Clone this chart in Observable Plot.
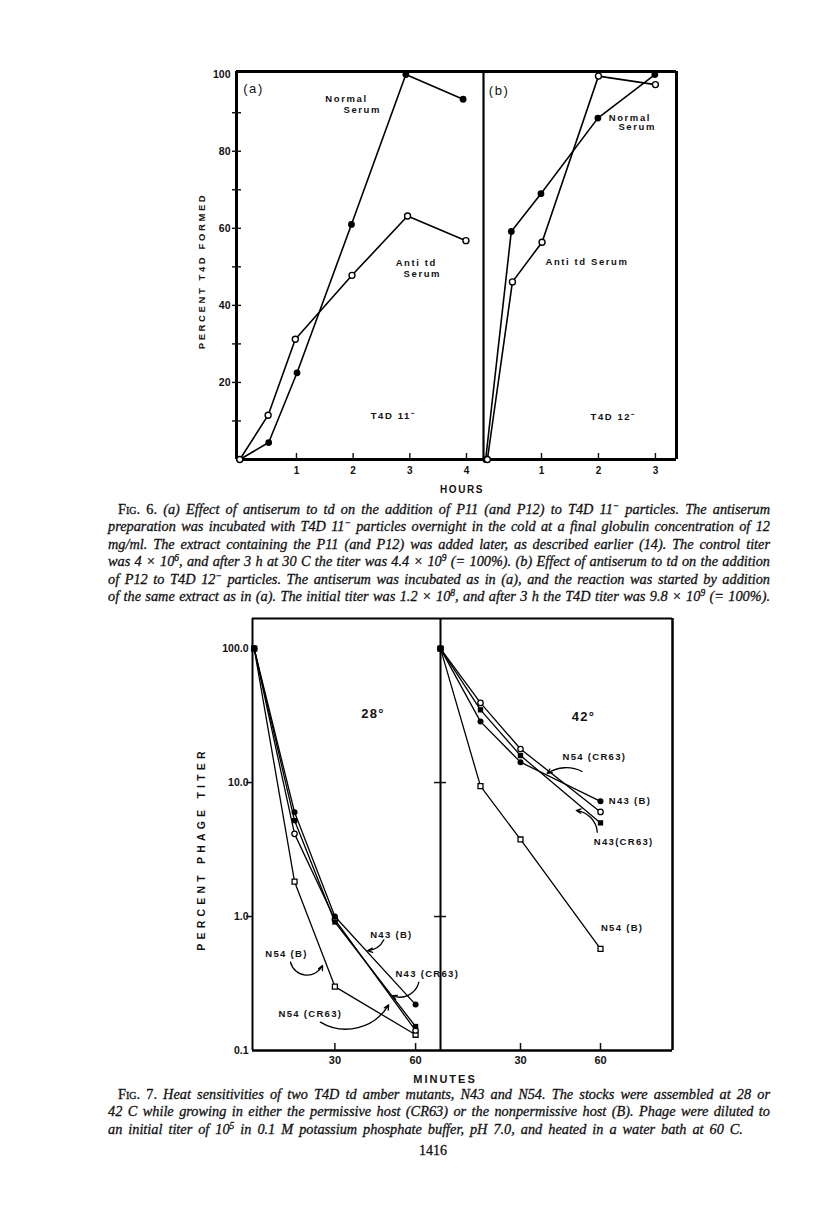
<!DOCTYPE html>
<html><head><meta charset="utf-8">
<script src="https://cdn.jsdelivr.net/npm/d3@7"></script>
<script src="https://cdn.jsdelivr.net/npm/@observablehq/plot@0.6"></script>
<style>
body{margin:0;background:#fff;}
#page{position:relative;width:816px;height:1211px;background:#fff;overflow:hidden;color:#111;}
.cap{position:absolute;left:108px;width:662px;font-family:"Liberation Serif","DejaVu Serif",serif;font-style:italic;font-size:14.3px;line-height:17.4px;-webkit-text-stroke:0.3px #111;}
.cap div{text-align:justify;text-align-last:justify;}
.cap div.first{padding-left:10px;}
.cap div.last{text-align-last:left;word-spacing:2.4px;}
.cap sup{font-size:0.66em;line-height:0;vertical-align:0.55em;}
.sc{font-style:normal;font-variant:small-caps;}
.up{font-style:normal;}
.ttl{position:absolute;font-family:"Liberation Sans",Arial,sans-serif;font-weight:bold;white-space:nowrap;transform:translate(-50%,-50%);}
.rot{transform:translate(-50%,-50%) rotate(-90deg);}
</style>
</head><body>
<div id="page">
  <div class="ttl rot" style="left:201px;top:271px;font-size:9.5px;letter-spacing:2.6px;">PERCENT T4D FORMED</div>
  <div class="ttl" style="left:462px;top:489px;font-size:10px;letter-spacing:1.6px;">HOURS</div>
  <div class="cap" style="top:501px;">
    <div class="first"><span class="sc">Fig</span><span class="up">. 6.</span> (a) Effect of antiserum to td on the addition of P11 (and P12) to T4D 11<sup>−</sup> particles. The antiserum</div>
    <div>preparation was incubated with T4D 11<sup>−</sup> particles overnight in the cold at a final globulin concentration of 12</div>
    <div>mg/ml. The extract containing the P11 (and P12) was added later, as described earlier (14). The control titer</div>
    <div>was 4 × 10<sup>6</sup>, and after 3 h at 30 C the titer was 4.4 × 10<sup>9</sup> (= 100%). (b) Effect of antiserum to td on the addition</div>
    <div>of P12 to T4D 12<sup>−</sup> particles. The antiserum was incubated as in (a), and the reaction was started by addition</div>
    <div>of the same extract as in (a). The initial titer was 1.2 × 10<sup>8</sup>, and after 3 h the T4D titer was 9.8 × 10<sup>9</sup> (= 100%).</div>
  </div>
  <div class="ttl rot" style="left:201px;top:849px;font-size:10.5px;letter-spacing:4.2px;">PERCENT PHAGE TITER</div>
  <div class="ttl" style="left:445px;top:1079px;font-size:11px;letter-spacing:2px;">MINUTES</div>
  <div class="cap" style="top:1086px;">
    <div class="first"><span class="sc">Fig</span><span class="up">. 7.</span> Heat sensitivities of two T4D td amber mutants, N43 and N54. The stocks were assembled at 28 or</div>
    <div>42 C while growing in either the permissive host (CR63) or the nonpermissive host (B). Phage were diluted to</div>
    <div class="last">an initial titer of 10<sup>5</sup> in 0.1 M potassium phosphate buffer, pH 7.0, and heated in a water bath at 60 C.</div>
  </div>
  <div style="position:absolute;left:433px;top:1151px;transform:translate(-50%,-50%);font-family:'Liberation Serif',serif;font-size:14px;-webkit-text-stroke:0.3px #111;">1416</div>
</div>
<script>
// ================= DATA =================
// Fig. 6 (a): T4D 11- particles (hours, percent T4D formed)
const fig6aNormalHours = [0, 0.51, 1.01, 1.97, 2.93, 3.94];
const fig6aNormalPct   = [0, 4.4, 22.5, 61.0, 99.9, 93.5];
const fig6aAntiHours   = [0, 0.50, 0.98, 1.98, 2.96, 3.99];
const fig6aAntiPct     = [0, 11.5, 31.2, 47.8, 63.2, 56.8];
// Fig. 6 (b): T4D 12- particles
const fig6bNormalHours = [0.02, 0.47, 0.99, 1.99, 2.99];
const fig6bNormalPct   = [0, 59.2, 69.0, 88.6, 99.9];
const fig6bAntiHours   = [0.05, 0.49, 1.01, 2.00, 3.00];
const fig6bAntiPct     = [0, 46.1, 56.4, 99.5, 97.3];
// Fig. 6 axis ticks
const fig6YMinorTicks = [10, 20, 30, 40, 50, 60, 70, 80, 90];
const fig6YLabels = [20, 40, 60, 80, 100];
const fig6aXTicks = [1, 2, 3, 4];
const fig6bXTicks = [1, 2, 3];
// Fig. 6 annotations
const fig6aPanelLabel = [{text: "(a)", x: 0.06, y: 96.2}];
const fig6bPanelLabel = [{text: "(b)", x: 0.076, y: 95.8}];
const fig6aNotes = [
  {text: "Normal", x: 1.51, y: 93.6},
  {text: "Serum", x: 1.83, y: 90.8},
  {text: "Anti td", x: 2.75, y: 50.9},
  {text: "Serum", x: 2.89, y: 48.2},
  {text: "T4D 11\u207B", x: 2.31, y: 11.2}
];
const fig6bNotes = [
  {text: "Normal", x: 2.18, y: 88.7},
  {text: "Serum", x: 2.35, y: 86.2},
  {text: "Anti td Serum", x: 1.07, y: 51.2},
  {text: "T4D 12\u207B", x: 1.86, y: 11.0}
];

// Fig. 7: minutes at 60 C, percent phage titer
const fig7Minutes = [0, 15, 30, 60];
const t28_N43B    = [100, 6.0, 1.0, 0.22];
const t28_N43CR63 = [100, 5.2, 0.91, 0.151];
const t28_N54CR63 = [100, 4.14, 0.95, 0.141];
const t28_N54B    = [100, 1.82, 0.30, 0.131];
const t42_N43B    = [100, 28.5, 14.2, 7.24];
const t42_N43CR63 = [100, 34.9, 15.9, 5.0];
const t42_N54CR63 = [100, 39.3, 17.8, 6.04];
const t42_N54B    = [100, 9.4, 3.76, 0.574];
const fig7SeriesNames = ["N43 (B)", "N43 (CR63)", "N54 (CR63)", "N54 (B)"];
const fig7YLabels = [0.1, 1, 10, 100];
const fig7YTicksLeft = [1, 10];
const fig7YTicksDivider = [1, 10];
const fig7XTicks = [30, 60];
// Fig. 7 annotations
const fig7LeftTemp = [{text: "28°", x: 44.2, y: 32.6}];
const fig7RightTemp = [{text: "42°", x: 53.6, y: 30.7}];
const fig7LeftNotes = [
  {text: "N43 (B)", x: 51.0, y: 0.734, anchor: "middle"},
  {text: "N54 (B)", x: 12.0, y: 0.526, anchor: "middle"},
  {text: "N43 (CR63)", x: 52.5, y: 0.372, anchor: "start"},
  {text: "N54 (CR63)", x: 20.9, y: 0.189, anchor: "middle"}
];
const fig7RightNotes = [
  {text: "N54 (CR63)", x: 57.7, y: 15.4, anchor: "middle"},
  {text: "N43 (B)", x: 63.1, y: 7.26, anchor: "start"},
  {text: "N43(CR63)", x: 68.7, y: 3.58, anchor: "middle"},
  {text: "N54 (B)", x: 68.1, y: 0.824, anchor: "middle"}
];
// arrows: from label to curve
const fig7LeftArrows = [
  {x1: 48.2, y1: 0.670, x2: 42.2, y2: 0.557, bend: 30},
  {x1: 13.5, y1: 0.456, x2: 25.4, y2: 0.431, bend: -70},
  {x1: 61.2, y1: 0.324, x2: 51.3, y2: 0.257, bend: 50},
  {x1: 24.6, y1: 0.163, x2: 50.0, y2: 0.219, bend: -45}
];
const fig7RightArrows = [
  {x1: 53.1, y1: 12.1, x2: 40.0, y2: 11.7, bend: -30},
  {x1: 58.8, y1: 4.26, x2: 50.9, y2: 6.18, bend: -40}
];

// ================= LAYOUT =================
const SANS = "'Liberation Sans', Arial, sans-serif";
const page = document.getElementById("page");

function rows(xs, ys, series) {
  return xs.map((x, i) => ({series, x, y: ys[i]}));
}

function panel({frame, margin, x, y, marks, spacing}) {
  const [fl, ft, fr, fb] = frame;
  const [mt, mr, mb, ml] = margin;
  const width = fr - fl + ml + mr, height = fb - ft + mt + mb;
  const svg = Plot.plot({
    width, height, marginTop: mt, marginRight: mr, marginBottom: mb, marginLeft: ml,
    x, y, marks: marks(fr - fl, fb - ft),
    style: {fontFamily: SANS, fontSize: "10px", fontWeight: "bold", color: "#111"}
  });
  svg.style.position = "absolute";
  svg.style.left = (fl - ml) + "px";
  svg.style.top = (ft - mt) + "px";
  svg.style.background = "transparent";
  svg.style.overflow = "visible";
  svg.style.maxWidth = "none";
  d3.select(svg).selectAll('g[aria-label="text"] text').style("letter-spacing", spacing);
  page.appendChild(svg);
  return svg;
}

// ---------- Fig. 6 ----------
const y6 = {domain: [0, 100.7], axis: null};
const x6a = [-0.058, 4.30];
const x6b = [-0.018, 3.37];

function fig6Marks(xDom, xTicks, normal, anti, notes, panelLabel, withY, leftW, rightW) {
  return (iw, ih) => [
    Plot.ruleX([xDom[0]], {stroke: "black", strokeWidth: leftW}),
    Plot.ruleX([xDom[1]], {stroke: "black", strokeWidth: rightW}),
    Plot.ruleY([y6.domain[0]], {stroke: "black", strokeWidth: 3}),
    Plot.ruleY([y6.domain[1]], {stroke: "black", strokeWidth: 3}),
    withY ? Plot.tickY(fig6YMinorTicks, {y: d => d, insetLeft: -4, insetRight: iw - 5, strokeWidth: 1.4}) : null,
    withY ? Plot.axisY({ticks: fig6YLabels, tickSize: 0, tickPadding: 6, label: null, tickFormat: d3.format("d"), fontSize: 10.5, fontWeight: "bold"}) : null,
    Plot.tickX(xTicks, {x: d => d, insetTop: ih - 6, strokeWidth: 1.4}),
    Plot.axisX({ticks: xTicks, tickSize: 0, tickPadding: 7, label: null, tickFormat: d3.format("d"), fontSize: 10, fontWeight: "bold"}),
    Plot.line(normal, {x: "x", y: "y", stroke: "black", strokeWidth: 1.6}),
    Plot.line(anti, {x: "x", y: "y", stroke: "black", strokeWidth: 1.6}),
    Plot.dot(normal, {x: "x", y: "y", r: 3.4, fill: "black"}),
    Plot.dot(anti, {x: "x", y: "y", r: 3, fill: "white", stroke: "black", strokeWidth: 1.4}),
    Plot.text(panelLabel, {x: "x", y: "y", text: "text", textAnchor: "start", fontSize: 13, fontWeight: "normal"}),
    Plot.text(notes, {x: "x", y: "y", text: "text", textAnchor: "start", fontSize: 9.5, fontWeight: "bold"})
  ];
}

panel({
  frame: [236, 71, 483, 459], margin: [10, 10, 30, 40],
  x: {domain: x6a}, y: y6, spacing: "1.6px",
  marks: fig6Marks(x6a, fig6aXTicks,
    rows(fig6aNormalHours, fig6aNormalPct, "Normal Serum"),
    rows(fig6aAntiHours, fig6aAntiPct, "Anti td Serum"),
    fig6aNotes, fig6aPanelLabel, true, 3, 1.7)
});
panel({
  frame: [483, 71, 676, 459], margin: [10, 10, 30, 10],
  x: {domain: x6b}, y: y6, spacing: "1.6px",
  marks: fig6Marks(x6b, fig6bXTicks,
    rows(fig6bNormalHours, fig6bNormalPct, "Normal Serum"),
    rows(fig6bAntiHours, fig6bAntiPct, "Anti td Serum"),
    fig6bNotes, fig6bPanelLabel, false, 1.7, 3)
});

// ---------- Fig. 7 ----------
const y7 = {type: "log", domain: [0.1, 167.7], axis: null};
const x7L = [-0.63, 69.26];
const x7R = [0, 87];

function fig7Rows(minutes, arrs) {
  return arrs.map((a, i) => rows(minutes, a, fig7SeriesNames[i]));
}

function fig7Marks(xDom, data, notes, temp, arrows, isLeft) {
  const [n43b, n43cr, n54cr, n54b] = data;
  const all = data.flat();
  return (iw, ih) => [
    Plot.ruleX([xDom[0]], {stroke: "black", strokeWidth: 2}),
    isLeft ? null : Plot.ruleX([xDom[1]], {stroke: "black", strokeWidth: 2.5}),
    Plot.ruleY([y7.domain[0]], {stroke: "black", strokeWidth: 2.5}),
    Plot.ruleY([y7.domain[1]], {stroke: "black", strokeWidth: 2}),
    isLeft
      ? Plot.tickY(fig7YTicksLeft, {y: d => d, insetLeft: -6, insetRight: iw, strokeWidth: 1.5})
      : Plot.tickY(fig7YTicksDivider, {y: d => d, insetLeft: -6, insetRight: iw - 6, strokeWidth: 1.5}),
    isLeft ? Plot.axisY({ticks: fig7YLabels, tickSize: 0, tickPadding: 4, label: null, tickFormat: d3.format(".1f"), fontSize: 10.5, fontWeight: "bold"}) : null,
    Plot.tickX(fig7XTicks, {x: d => d, insetTop: ih - 7, strokeWidth: 1.5}),
    Plot.axisX({ticks: fig7XTicks, tickSize: 0, tickPadding: 6, label: null, tickFormat: d3.format("d"), fontSize: 11, fontWeight: "bold"}),
    Plot.line(all, {x: "x", y: "y", z: "series", stroke: "black", strokeWidth: 1.3}),
    Plot.dot(n54b, {x: "x", y: "y", symbol: "square", r: 2.8, fill: "white", stroke: "black", strokeWidth: 1.3}),
    Plot.dot(n54cr, {x: "x", y: "y", r: 2.7, fill: "white", stroke: "black", strokeWidth: 1.3}),
    Plot.dot(n43cr, {x: "x", y: "y", symbol: "square", r: 3, fill: "black"}),
    Plot.dot(n43b, {x: "x", y: "y", r: 3, fill: "black"}),
    ...arrows.map(a => Plot.arrow([a], {x1: "x1", y1: "y1", x2: "x2", y2: "y2", bend: a.bend, headLength: 6, headAngle: 50, stroke: "black", strokeWidth: 1.3})),
    Plot.text(notes.filter(n => n.anchor === "start"), {x: "x", y: "y", text: "text", textAnchor: "start", fontSize: 9.5, fontWeight: "bold"}),
    Plot.text(notes.filter(n => n.anchor === "middle"), {x: "x", y: "y", text: "text", textAnchor: "middle", fontSize: 9.5, fontWeight: "bold"}),
    Plot.text(temp, {x: "x", y: "y", text: "text", textAnchor: "middle", fontSize: 13, fontWeight: "bold"})
  ];
}

panel({
  frame: [252, 618, 440, 1050], margin: [10, 10, 30, 50],
  x: {domain: x7L}, y: y7, spacing: "1.3px",
  marks: fig7Marks(x7L, fig7Rows(fig7Minutes, [t28_N43B, t28_N43CR63, t28_N54CR63, t28_N54B]), fig7LeftNotes, fig7LeftTemp, fig7LeftArrows, true)
});
panel({
  frame: [440, 618, 672, 1050], margin: [10, 10, 30, 10],
  x: {domain: x7R}, y: y7, spacing: "1.3px",
  marks: fig7Marks(x7R, fig7Rows(fig7Minutes, [t42_N43B, t42_N43CR63, t42_N54CR63, t42_N54B]), fig7RightNotes, fig7RightTemp, fig7RightArrows, false)
});
</script>
</body></html>
